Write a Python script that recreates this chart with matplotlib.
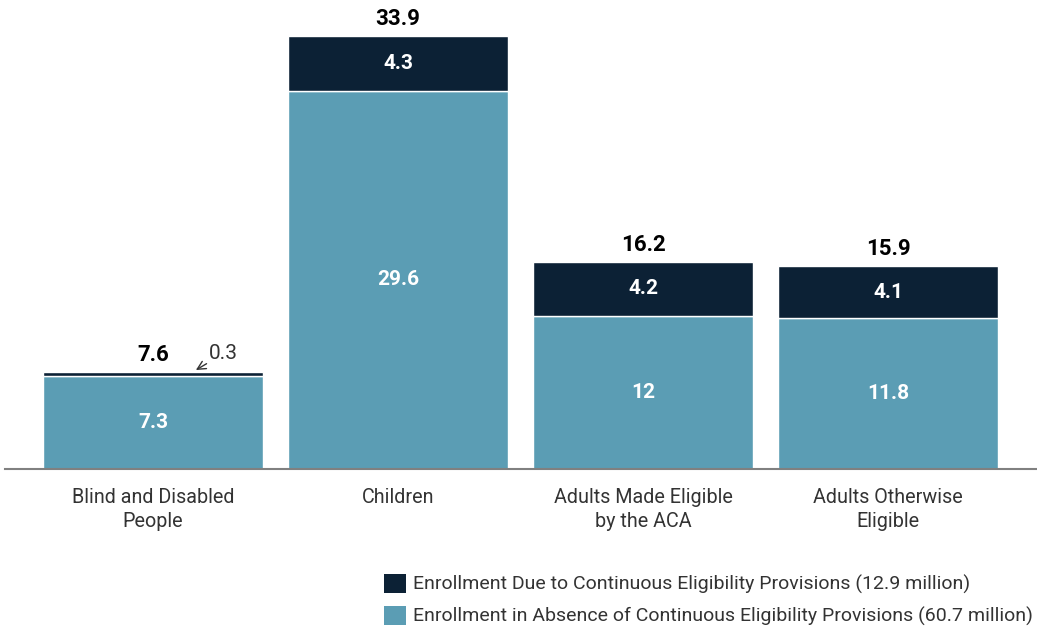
import numpy as np
import matplotlib.pyplot as plt
from matplotlib.patches import Patch

plt.rcParams['font.family'] = ['Roboto', 'DejaVu Sans']

# data (millions)
categories = ['Blind and Disabled\nPeople', 'Children', 'Adults Made Eligible\nby the ACA', 'Adults Otherwise\nEligible']
base = [7.3, 29.6, 12.0, 11.8]
continuous = [0.3, 4.3, 4.2, 4.1]
totals = [7.6, 33.9, 16.2, 15.9]
base_labels = ['7.3', '29.6', '12', '11.8']
cont_labels = ['', '4.3', '4.2', '4.1']
legend_labels = ['Enrollment Due to Continuous Eligibility Provisions (12.9 million)',
                 'Enrollment in Absence of Continuous Eligibility Provisions (60.7 million)']

dark = '#0c2135'
teal = '#5b9db4'

fig = plt.figure(figsize=(10.37, 6.28), dpi=100)
ax = fig.add_axes([5 / 1037, 159 / 628, 1032 / 1037, 447 / 628])

x = np.arange(len(categories))
w = 0.898
ax.bar(x, base, w, color=teal, edgecolor='white', linewidth=1)
ax.bar(x, continuous, w, bottom=base, color=dark, edgecolor='white', linewidth=1)

for i in range(len(x)):
    ax.text(x[i], base[i] / 2, base_labels[i], ha='center', va='center',
            color='white', fontsize=15, fontweight='bold')
    if cont_labels[i]:
        ax.text(x[i], base[i] + continuous[i] / 2, cont_labels[i], ha='center', va='center',
                color='white', fontsize=15, fontweight='bold')
    ax.text(x[i], totals[i] + 0.45, f'{totals[i]}', ha='center', va='bottom',
            color='black', fontsize=16, fontweight='bold')

# small segment callout
ax.annotate('0.3', xy=(0.175, 7.75), xytext=(0.23, 8.3), fontsize=15, color='#333333',
            ha='left', va='bottom',
            arrowprops=dict(arrowstyle='->', color='#333333', lw=1, shrinkA=0, shrinkB=0))

ax.set_xlim(-0.604, 3.608)
ax.set_ylim(0, 35)
ax.set_xticks(x)
ax.set_xticklabels(categories, fontsize=14.2, color='#333333', linespacing=1.3)
ax.tick_params(axis='x', length=0, pad=14)
ax.set_yticks([])
for s in ['top', 'right', 'left']:
    ax.spines[s].set_visible(False)
ax.spines['bottom'].set_color('#808080')
ax.spines['bottom'].set_linewidth(1.5)

handles = [Patch(facecolor=dark), Patch(facecolor=teal)]
fig.legend(handles, legend_labels, loc='upper left', bbox_to_anchor=(370 / 1037, 1 - 560 / 628),
           frameon=False, fontsize=14, handlelength=1.15, handleheight=1.15,
           handletextpad=0.35, labelspacing=0.6, labelcolor='#333333',
           borderpad=0.2)

fig.savefig('out.png', dpi=100)
